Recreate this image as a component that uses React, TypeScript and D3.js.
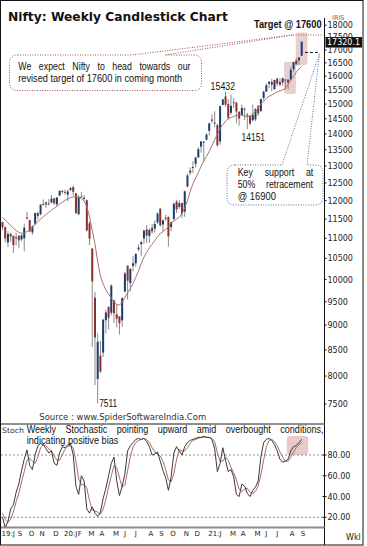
import React from 'react';
import * as d3 from 'd3';

// ---------------- DATA ----------------
const weekDates = [
  '2019-07-26','2019-08-02','2019-08-09','2019-08-16','2019-08-23','2019-08-30','2019-09-06','2019-09-13','2019-09-20','2019-09-27',
  '2019-10-04','2019-10-11','2019-10-18','2019-10-25','2019-11-01','2019-11-08','2019-11-15','2019-11-22','2019-11-29','2019-12-06',
  '2019-12-13','2019-12-20','2019-12-27','2020-01-03','2020-01-10','2020-01-17','2020-01-24','2020-01-31','2020-02-07','2020-02-14',
  '2020-02-21','2020-02-28','2020-03-06','2020-03-13','2020-03-20','2020-03-27','2020-04-03','2020-04-09','2020-04-17','2020-04-24',
  '2020-04-30','2020-05-08','2020-05-15','2020-05-22','2020-05-29','2020-06-05','2020-06-12','2020-06-19','2020-06-26','2020-07-03',
  '2020-07-10','2020-07-17','2020-07-24','2020-07-31','2020-08-07','2020-08-14','2020-08-21','2020-08-28','2020-09-04','2020-09-11',
  '2020-09-18','2020-09-25','2020-10-01','2020-10-09','2020-10-16','2020-10-23','2020-10-30','2020-11-06','2020-11-13','2020-11-20',
  '2020-11-27','2020-12-04','2020-12-11','2020-12-18','2020-12-24','2020-12-31','2021-01-08','2021-01-15','2021-01-22','2021-01-29',
  '2021-02-05','2021-02-12','2021-02-19','2021-02-26','2021-03-05','2021-03-12','2021-03-19','2021-03-26','2021-04-01','2021-04-09',
  '2021-04-16','2021-04-23','2021-04-30','2021-05-07','2021-05-14','2021-05-21','2021-05-28','2021-06-04','2021-06-11','2021-06-18',
  '2021-06-25','2021-07-02','2021-07-09','2021-07-16','2021-07-23','2021-07-30','2021-08-06','2021-08-13','2021-08-20','2021-08-27',
  '2021-09-03'
];

const openP = [
  11420,11290,10895,11110,11060,11000,11068,10971,11000,11542,
  11474,11150,11380,11657,11628,11886,11950,11919,11945,12065,
  11900,12140,12273,12247,12170,12296,12381,12200,11627,12102,
  12046,12012,11387,10742,9588,7946,8385,8446,9103,9390,
  9259,9533,9226,9182,9099,9726,10326,9919,10318,10382,
  10723,10851,10999,11225,11057,11271,11248,11412,11778,11356,
  11533,11560,11288,11503,11973,11827,11937,11697,12399,12800,
  12960,13062,13264,13597,13741,13815,14104,14474,14371,14290,
  13758,14973,15270,14999,14702,15064,15050,14736,14628,14837,
  14644,14599,14449,14481,14928,14756,15211,15437,15725,15791,
  15525,15915,15793,15766,15877,15874,15874,16258,16600,16592,
  16775
];

const highP = [
  11420,11300,11181,11146,11070,11142,11069,11110,11382,11695,
  11475,11331,11670,11700,11900,12034,11973,12038,12158,12070,
  12098,12294,12287,12311,12311,12389,12430,12216,12160,12246,
  12160,12030,11433,10751,9720,8828,8678,9131,9324,9390,
  9889,9533,9452,9190,9598,10178,10328,10272,10553,10631,
  10847,10934,11225,11341,11256,11373,11460,11686,11794,11493,
  11618,11561,11428,11939,12025,12018,11942,12280,12770,12963,
  13145,13280,13580,13771,13778,14024,14367,14653,14753,14336,
  14954,15168,15432,15176,15336,15205,15079,14752,14984,14879,
  14697,14607,14984,14864,14966,15189,15469,15733,15800,15901,
  15870,15915,15915,15952,15881,15874,16350,16543,16701,16722,
  17340
];

const lowP = [
  11210,10900,10782,10908,10637,10814,10746,10925,10670,11490,
  11158,11090,11331,11490,11600,11866,11803,11870,11926,11888,
  11832,12119,12192,12165,11975,12278,12136,11633,11614,12091,
  12000,11175,10827,8555,7832,7511,8056,8360,8822,8909,
  9206,9043,8953,8806,8968,9706,9544,9728,10194,10299,
  10676,10562,10858,10882,10882,11111,11145,11370,11303,11185,
  11443,10790,11184,11463,11661,11775,11535,11558,12375,12730,
  12790,12962,13243,13403,13131,13790,13953,14358,14222,13596,
  13662,14954,14906,14468,14635,14863,14350,14265,14617,14459,
  14151,14273,14415,14416,14592,14743,15126,15437,15566,15450,
  15505,15635,15632,15658,15514,15513,15834,16162,16395,16410,
  16765
];

const closeP = [
  11284,10997,11109,11048,10829,11023,10946,11076,11274,11512,
  11175,11305,11662,11584,11890,11908,11895,11914,12056,11921,
  12086,12272,12246,12226,12257,12352,12248,11662,12098,12113,
  12080,11202,10989,9955,8745,8660,8084,9112,9267,9155,
  9860,9252,9137,9039,9580,10142,9972,10244,10383,10607,
  10768,10902,11194,11073,11214,11178,11372,11647,11333,11465,
  11505,11050,11417,11914,11762,11930,11642,12264,12720,12860,
  12969,13258,13514,13761,13749,13982,14347,14434,14372,13635,
  14924,15163,14982,14529,14938,15031,14744,14507,14867,14834,
  14617,14341,14631,14823,14677,15175,15435,15670,15799,15683,
  15860,15722,15690,15924,15856,15763,16238,16529,16451,16705,
  17320.1
];

const maValues = [
  11540,11480,11400,11330,11260,11200,11150,11128,11140,11169,
  11210,11290,11360,11430,11500,11563,11620,11680,11740,11790,
  11850,11910,11960,12010,12050,12080,12100,12111,12100,12060,
  11990,11840,11560,11200,10860,10420,10080,9900,9760,9670,
  9580,9500,9440,9430,9480,9600,9700,9800,9913,10050,
  10200,10380,10530,10650,10760,10850,10940,11040,11120,11170,
  11230,11300,11400,11450,11500,11550,11650,11800,12000,12250,
  12480,12650,12800,12990,13150,13290,13450,13620,13820,13980,
  14180,14300,14420,14500,14540,14580,14610,14630,14620,14590,
  14570,14590,14660,14740,14860,15000,15100,15200,15270,15320,
  15380,15430,15460,15500,15560,15700,15850,16000,16150,16270,
  16370
];

const stochK = [
  20,10,16,28,32,44,52,65,76,85,
  70,66,80,89,91,90,86,82,84,72,
  70,82,88,87,90,91,80,50,42,60,
  55,28,24,30,24,21,25,38,48,60,
  72,78,55,41,50,62,84,89,92,95,
  96,95,96,93,88,80,81,83,74,65,
  58,46,59,82,88,84,80,88,92,94,
  95,96,97,97,98,97,97,95,86,64,
  72,87,75,64,66,59,42,40,52,50,
  43,40,46,49,55,78,92,95,96,94,
  90,84,76,73,74,76,84,88,89,92,
  95
];

const stochD = [
  24,18,15,18,25,35,43,54,64,75,
  77,74,72,78,87,90,89,86,84,79,
  75,75,80,86,88,89,87,74,57,51,
  52,48,36,27,26,25,23,28,37,49,
  60,70,68,58,49,51,65,78,88,92,
  94,95,96,95,92,87,83,81,79,74,
  66,56,54,62,76,85,84,84,87,91,
  94,95,96,97,97,97,97,96,93,82,
  74,74,78,75,68,63,56,47,45,47,
  48,44,43,45,50,61,75,88,94,95,
  93,89,83,78,74,74,78,83,87,90,
  92
];

const priceTicks = [7500,8000,8500,9000,9500,10000,10500,11000,11500,12000,12500,13000,13500,14000,14500,15000,15500,16000,16500,17000,17500,18000];
const stochTicks = [20, 40, 60, 80];
const stochGuides = [20, 80];
const monthLetters = ['J','F','M','A','M','J','J','A','S','O','N','D'];

const targetLevel = 17600;
const supportLevel = 16900;
const swingHigh = { idx: 82, value: 15432 };
const swingLow = { idx: 90, value: 14151 };
const crashLow = { idx: 35, value: 7511 };

// ---------------- HELPERS ----------------
const LIB = "'Liberation Sans', Arial, sans-serif";
const DJV = "'DejaVu Sans', Verdana, sans-serif";
let _ctx: CanvasRenderingContext2D | null = null;
function measure(text: string, size: number, family: string, weight: string = 'normal') {
  if (!_ctx) _ctx = document.createElement('canvas').getContext('2d');
  if (!_ctx) return text.length * size * 0.55;
  _ctx.font = `${weight} ${size}px ${family}`;
  return _ctx.measureText(text).width;
}

function FitText(props: { x: number; y: number; width: number; text: string; size: number; family?: string; weight?: string; fill?: string; anchor?: string }) {
  const { x, y, width, text, size, family = LIB, weight = 'normal', fill = '#111', anchor = 'start' } = props;
  const w = measure(text, size, family, weight);
  const sx = width / w;
  const x0 = anchor === 'middle' ? x - width / 2 : anchor === 'end' ? x - width : x;
  return (
    <text transform={`translate(${x0},${y}) scale(${sx},1)`} fontSize={size} fontFamily={family} fontWeight={weight} fill={fill}>
      {text}
    </text>
  );
}

function Justified(props: { words: string[]; x0: number; x1: number; y: number; size: number; sx: number; fill?: string; family?: string }) {
  const { words, x0, x1, y, size, sx, fill = '#111', family = LIB } = props;
  const widths = words.map(w => measure(w, size, family) * sx);
  const total = d3.sum(widths);
  const gap = words.length > 1 ? (x1 - x0 - total) / (words.length - 1) : 0;
  let cx = x0;
  return (
    <g>
      {words.map((w, i) => {
        const el = (
          <text key={i} transform={`translate(${cx},${y}) scale(${sx},1)`} fontSize={size} fontFamily={family} fill={fill}>{w}</text>
        );
        cx += widths[i] + gap;
        return el;
      })}
    </g>
  );
}

function calloutPath(x0: number, y0: number, x1: number, y1: number, r: number, b1: number, b2: number, tx: number, ty: number) {
  return `M${x0 + r},${y0} L${b1},${y0} L${tx},${ty} L${b2},${y0} L${x1 - r},${y0} Q${x1},${y0} ${x1},${y0 + r} L${x1},${y1 - r} Q${x1},${y1} ${x1 - r},${y1} L${x0 + r},${y1} Q${x0},${y1} ${x0},${y1 - r} L${x0},${y0 + r} Q${x0},${y0} ${x0 + r},${y0} Z`;
}

// ---------------- APP ----------------
export default function App() {
  const W = 367, H = 546;
  const AX = 324.5;
  const x = d3.scaleLinear().domain([0, closeP.length - 1]).range([2.5, 301.7]);
  const y = d3.scaleLog().domain([7500, 18000]).range([404.0, 25.2]);
  const ys = d3.scaleLinear().domain([20, 80]).range([517.3, 455]);

  const maLine = d3.line<number>().x((_, i) => x(i)).y(v => y(v))(maValues) || '';
  const kLine = d3.line<number>().x((_, i) => x(i)).y(v => ys(v))(stochK) || '';
  const dLine = d3.line<number>().x((_, i) => x(i)).y(v => ys(v))(stochD) || '';

  const MFS = 7;
  const parsed = weekDates.map(d => new Date(d + 'T00:00:00'));
  const monthLabels: { x: number; text: string }[] = [];
  let lastEnd = -Infinity;
  parsed.forEach((d, i) => {
    if (i === 0 || d.getMonth() !== parsed[i - 1].getMonth()) {
      const prefix = i === 0 || d.getMonth() === 0 ? `${String(d.getFullYear()).slice(2)}:` : '';
      const text = prefix + monthLetters[d.getMonth()];
      const lx = x(i) - 1;
      const w = measure(text, MFS, DJV);
      if (lx >= lastEnd - 1) {
        monthLabels.push({ x: Math.max(lx, lastEnd + 0.3), text });
        lastEnd = Math.max(lx, lastEnd + 0.3) + w;
      }
    }
  });

  const highlights = [
    { i0: 103.5, i1: 107.9, p0: 15356, p1: 16545 },
    { i0: 107.8, i1: 112.1, p0: 16420, p1: 17700 },
  ];

  const tY = y(targetLevel);
  const sY = y(supportLevel);
  const lastClose = closeP[closeP.length - 1];
  const lastY = y(lastClose);
  const boxY = lastY - 4.8, boxH = 10.5;

  return (
    <svg width={W} height={H} style={{ position: 'absolute', left: 0, top: 0, background: '#fff', display: 'block' }}>
      <rect x={0} y={0} width={W} height={H} fill="#fff" />
      <defs>
        <clipPath id="priceClip"><rect x={1} y={1} width={AX - 1} height={422} /></clipPath>
        <clipPath id="stochClip"><rect x={1} y={425} width={AX - 1} height={102} /></clipPath>
        <clipPath id="axisLabelClip">
          <path clipRule="evenodd" d={`M${AX},0 H${W} V${H} H${AX} Z M325.5,${boxY} h36.5 v${boxH} h-36.5 Z`} />
        </clipPath>
      </defs>

      {/* title */}
      <FitText x={8} y={20.5} width={220} text="Nifty: Weekly Candlestick Chart" size={11.5} family={DJV} weight="bold" fill="#111" />
      <text x={332} y={20} fontSize={6.5} fontFamily={DJV} fill="#666">IRIS</text>

      {/* highlight boxes behind candles */}
      {highlights.map((h, i) => (
        <rect key={i} x={x(h.i0)} y={y(h.p1)} width={x(h.i1) - x(h.i0)} height={y(h.p0) - y(h.p1)} rx={2} fill="#e8caca" opacity={0.9} />
      ))}

      {/* candles */}
      <g clipPath="url(#priceClip)">
        {closeP.map((c, i) => {
          const o = openP[i];
          const up = c >= o;
          const yTop = y(Math.max(o, c));
          const yBot = y(Math.min(o, c));
          return (
            <g key={i}>
              <line x1={x(i)} x2={x(i)} y1={y(highP[i])} y2={y(lowP[i])} stroke="#8a8a8a" strokeWidth={1} />
              <rect x={x(i) - 1} y={yTop} width={2} height={Math.max(1, yBot - yTop)} fill={up ? '#1d3d6f' : '#8c2f2f'} />
            </g>
          );
        })}
        <path d={maLine} fill="none" stroke="#a8746d" strokeWidth={1} />
      </g>

      {/* swing labels */}
      <FitText x={x(swingHigh.idx) - 2.7} y={y(swingHigh.value) - 2} width={24.5} text={String(swingHigh.value)} size={10.5} anchor="middle" />
      <FitText x={x(swingLow.idx) + 6} y={y(swingLow.value) + 12} width={23.5} text={String(swingLow.value)} size={10.5} anchor="middle" />
      <FitText x={x(crashLow.idx) + 1.5} y={y(crashLow.value) + 3.8} width={18} text={String(crashLow.value)} size={10.5} />

      {/* target annotation */}
      <FitText x={254} y={28} width={67.7} text={`Target @ ${targetLevel}`} size={10.5} weight="bold" fill="#111" />
      <line x1={293} x2={AX - 1} y1={tY} y2={tY} stroke="#a85a55" strokeWidth={1} strokeDasharray="1,1.5" />
      <path d={calloutPath(9.5, 55, 201.5, 90.5, 8, 132, 165, 293, tY)} fill="#fff" stroke="#a0524f" strokeWidth={1} strokeDasharray="1,1.5" />
      <Justified words={['We', 'expect', 'Nifty', 'to', 'head', 'towards', 'our']} x0={18.3} x1={190.5} y={70} size={10.5} sx={0.84} />
      <FitText x={18.3} y={82} width={164} text={`revised target of ${targetLevel} in coming month`} size={10.5} />

      {/* support annotation */}
      <line x1={305} x2={320} y1={sY} y2={sY} stroke="#111" strokeWidth={1} strokeDasharray="3,2" />
      <path d={calloutPath(227, 165, 323, 205, 8, 282, 307, 319.5, sY + 1)} fill="#fff" stroke="#4f7294" strokeWidth={1} strokeDasharray="1,1.5" />
      <Justified words={['Key', 'support', 'at']} x0={237.7} x1={313.3} y={175.5} size={10.5} sx={0.84} />
      <Justified words={['50%', 'retracement']} x0={237.7} x1={313} y={188} size={10.5} sx={0.84} />
      <FitText x={237.7} y={200} width={38.3} text={`@ ${supportLevel}`} size={10.5} />

      {/* source */}
      <FitText x={39.3} y={419.5} width={167} text="Source : www.SpiderSoftwareIndia.Com" size={8.5} family={DJV} fill="#333" />

      {/* price axis */}
      <line x1={AX} x2={AX} y1={18} y2={545} stroke="#111" strokeWidth={1} />
      <g clipPath="url(#axisLabelClip)">
        {priceTicks.map(t => (
          <g key={t}>
            <line x1={AX - 2} x2={AX + 2} y1={y(t)} y2={y(t)} stroke="#111" />
            <text x={AX + 3} y={y(t) + 3} fontSize={8} fontFamily={DJV} fill="#222">{t}</text>
          </g>
        ))}
      </g>
      <rect x={325.5} y={boxY} width={36.5} height={boxH} fill="#111" />
      <text x={327} y={lastY + 3.3} fontSize={8} fontFamily={DJV} fill="#fff">{lastClose.toFixed(1)}</text>

      {/* panel separators */}
      <line x1={1} x2={AX} y1={424} y2={424} stroke="#8c8c8c" strokeWidth={2} />
      <line x1={1} x2={AX} y1={527.5} y2={527.5} stroke="#8c8c8c" strokeWidth={2} />

      {/* stochastic panel */}
      <rect x={x(104.5)} y={ys(98.4)} width={x(112.4) - x(104.5)} height={ys(80) - ys(98.4)} rx={3} fill="#e8caca" />
      {stochGuides.map(g => (
        <line key={g} x1={1} x2={AX} y1={ys(g)} y2={ys(g)} stroke="#7c9a6a" strokeWidth={1} strokeDasharray="2,2" />
      ))}
      <g clipPath="url(#stochClip)">
        <path d={dLine} fill="none" stroke="#a86a6a" strokeWidth={1} />
        <path d={kLine} fill="none" stroke="#3a3a3a" strokeWidth={1} />
      </g>
      {stochTicks.map(t => (
        <g key={t}>
          <line x1={AX - 2} x2={AX + 2} y1={ys(t)} y2={ys(t)} stroke="#111" />
          <text x={AX + 3} y={ys(t) + 3} fontSize={8} fontFamily={DJV} fill="#222">{t.toFixed(2)}</text>
        </g>
      ))}
      <FitText x={2} y={433} width={22} text="Stoch" size={7.5} family={DJV} fill="#333" />
      <Justified words={['Weekly', 'Stochastic', 'pointing', 'upward', 'amid', 'overbought', 'conditions,']} x0={26.7} x1={323.5} y={433} size={10.5} sx={0.86} />
      <FitText x={26.7} y={444} width={91.6} text="indicating positive bias" size={10.5} />

      {/* date labels */}
      {monthLabels.map((m, i) => (
        <text key={i} x={m.x} y={536} fontSize={MFS} fontFamily={DJV} fill="#222">{m.text}</text>
      ))}
      <text x={346} y={540} fontSize={8} fontFamily={DJV} fill="#222">Wkl</text>

      {/* frame */}
      <rect x={0.5} y={0.5} width={362.5} height={544.5} fill="none" stroke="#111" strokeWidth={1} />
    </svg>
  );
}
